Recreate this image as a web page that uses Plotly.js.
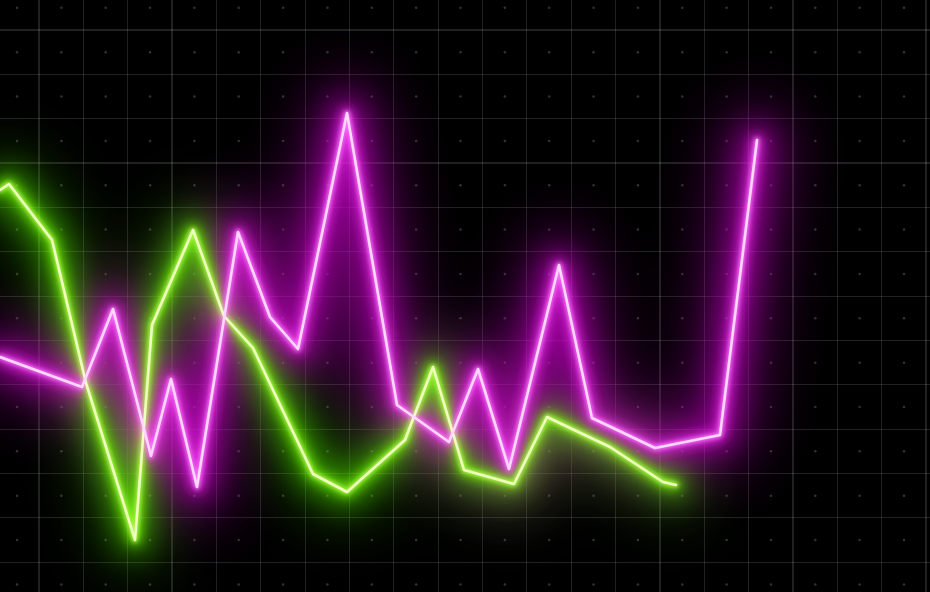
<!DOCTYPE html>
<html>
<head>
<meta charset="utf-8">
<script src="https://cdn.plot.ly/plotly-3.0.1.min.js"></script>
<style>
html,body{margin:0;padding:0;background:#000;overflow:hidden;}
#chart{width:930px;height:592px;}
</style>
</head>
<body>
<div id="chart"></div>
<script>
// Green series
const greenX = [0, 9, 52, 86, 135, 152, 193, 224, 253, 313, 347, 405, 433, 464, 514, 547, 610, 663, 676];
const greenY = [402, 408, 352, 209, 52, 267, 362, 276, 244, 118, 100, 152, 225, 122, 108, 175, 145, 110, 107];
// Magenta series
const magentaX = [0, 82, 113, 151, 171, 197, 238, 270, 298, 347, 397, 449, 478, 509, 559, 592, 655, 720, 757];
const magentaY = [235, 205, 283, 136, 213, 105, 360, 275, 243, 479, 187, 150, 223, 123, 327, 174, 144, 157, 452];

const GRID = 44.35;
const traces = [];
const filterOf = [];

// faint dots at cell centres (grid decoration)
const dotX = [], dotY = [];
for (let x = 17; x < 930; x += GRID) {
  for (let y = 7.6; y < 592; y += GRID) { dotX.push(x); dotY.push(y); }
}
traces.push({x: dotX, y: dotY, mode: 'markers', type: 'scatter', hoverinfo: 'skip',
  marker: {size: 2.5, color: 'rgba(255,255,255,0.2)'}});
filterOf.push(null);

function addLine(xs, ys, color, width, opacity, filt) {
  traces.push({x: xs, y: ys, mode: 'lines', type: 'scatter', hoverinfo: 'skip',
    opacity: opacity, line: {color: color, width: width, shape: 'linear'}});
  filterOf.push(filt);
}
// very wide haze
addLine(greenX, greenY, '#40c000', 60, 0.35, 'blurHuge');
addLine(magentaX, magentaY, '#b000b0', 70, 0.45, 'blurHuge');
// wide haze
addLine(greenX, greenY, '#5cff00', 30, 0.45, 'blurBig');
addLine(magentaX, magentaY, '#e000e0', 30, 0.5, 'blurBig');
// glow
addLine(greenX, greenY, '#7dff10', 10, 0.85, 'blurMid');
addLine(magentaX, magentaY, '#f030f0', 10, 0.9, 'blurMid');
// inner glow
addLine(greenX, greenY, '#b8ff50', 5, 0.9, 'blurSmall');
addLine(magentaX, magentaY, '#ff80ff', 5, 0.9, 'blurSmall');
// cores
addLine(greenX, greenY, '#f0ffc0', 2.6, 1, null);
addLine(magentaX, magentaY, '#ffd8ff', 2.6, 1, null);

const layout = {
  width: 930, height: 592,
  margin: {l: 0, r: 0, t: 0, b: 0, pad: 0},
  paper_bgcolor: '#000', plot_bgcolor: '#000',
  showlegend: false,
  xaxis: {range: [0, 930], tick0: 39, dtick: GRID, showgrid: true,
    gridcolor: 'rgba(255,255,255,0.13)', gridwidth: 1.2, zeroline: false,
    showticklabels: false, showline: false, ticks: '', fixedrange: true},
  yaxis: {range: [0, 592], tick0: 29.8, dtick: GRID, showgrid: true,
    gridcolor: 'rgba(255,255,255,0.13)', gridwidth: 1.2, zeroline: false,
    showticklabels: false, showline: false, ticks: '', fixedrange: true}
};
Plotly.newPlot('chart', traces, layout, {displayModeBar: false, staticPlot: true}).then(gd => {
  const svg = gd.querySelector('.main-svg');
  const NS = 'http://www.w3.org/2000/svg';
  let defs = svg.querySelector('defs');
  if (!defs) { defs = document.createElementNS(NS, 'defs'); svg.insertBefore(defs, svg.firstChild); }
  [['blurHuge', 30], ['blurBig', 14], ['blurMid', 6], ['blurSmall', 2]].forEach(([id, sd]) => {
    const f = document.createElementNS(NS, 'filter');
    f.setAttribute('id', id);
    f.setAttribute('filterUnits', 'userSpaceOnUse');
    f.setAttribute('x', '-300'); f.setAttribute('y', '-300');
    f.setAttribute('width', '1600'); f.setAttribute('height', '1200');
    const b = document.createElementNS(NS, 'feGaussianBlur');
    b.setAttribute('stdDeviation', sd);
    f.appendChild(b);
    defs.appendChild(f);
  });
  const groups = gd.querySelectorAll('.scatterlayer .trace');
  groups.forEach((g, i) => {
    if (filterOf[i]) g.setAttribute('filter', 'url(#' + filterOf[i] + ')');
    g.querySelectorAll('path.js-line').forEach(p => {
      p.style.strokeLinejoin = 'round'; p.style.strokeLinecap = 'round';
    });
  });
});
</script>
</body>
</html>
